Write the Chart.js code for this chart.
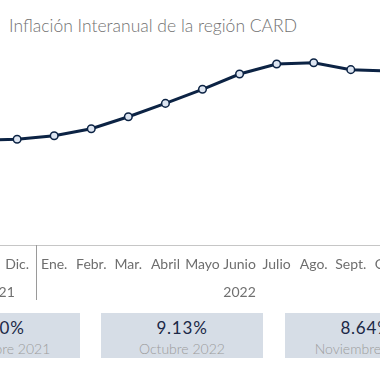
<!DOCTYPE html>
<html>
<head>
<meta charset="utf-8">
<script src="https://cdn.jsdelivr.net/npm/chart.js@4/dist/chart.umd.min.js"></script>
<style>
  html, body { margin:0; padding:0; background:#fff; }
  body { width:380px; height:380px; overflow:hidden; position:relative; font-family:Lato, "Open Sans", sans-serif; }
  #title { position:absolute; left:9px; top:16px; font-size:17.5px; line-height:20px; color:#727272; font-weight:300; white-space:nowrap; }
  #wrap { position:absolute; left:-43.8px; top:0; width:600px; height:310px; }
  .card { position:absolute; top:313px; width:162px; height:45px; background:#d6dde6; text-align:center; }
  .card .v { position:absolute; left:0; right:0; top:5px; font-size:17px; line-height:20px; color:#1b2846; letter-spacing:0.8px; }
  .card .l { position:absolute; left:0; right:0; top:27px; font-size:14px; line-height:17px; color:#9c9c9c; font-weight:300; }
</style>
</head>
<body>
<div id="title">Inflación Interanual de la región CARD</div>
<div id="wrap"><canvas id="c" width="600" height="310"></canvas></div>
<div id="cards"></div>
<script>
const months = ['Nov.','Dic.','Ene.','Febr.','Mar.','Abril','Mayo','Junio','Julio','Ago.','Sept.','Oct.','Nov.'];
const monthYears = ['2021','2021','2022','2022','2022','2022','2022','2022','2022','2022','2022','2022','2022'];
const inflation = [5.50, 5.55, 5.73, 6.10, 6.73, 7.43, 8.17, 8.97, 9.50, 9.56, 9.20, 9.13, 8.64];
const cardValues = ['5.50%', '9.13%', '8.64%'];
const cardLabels = ['Noviembre 2021', 'Octubre 2022', 'Noviembre 2022'];
const cardLefts = [-82, 101, 285];

const cardsEl = document.getElementById('cards');
cardValues.forEach((v, i) => {
  const d = document.createElement('div');
  d.className = 'card';
  d.style.left = cardLefts[i] + 'px';
  d.innerHTML = '<div class="v"></div><div class="l"></div>';
  d.querySelector('.v').textContent = v;
  d.querySelector('.l').textContent = cardLabels[i];
  cardsEl.appendChild(d);
});

const yearGroupsPlugin = {
  id: 'yearGroups',
  afterDraw(chart) {
    const x = chart.scales.x;
    const ctx = chart.ctx;
    const top = chart.chartArea.bottom;
    ctx.save();
    const groups = [];
    monthYears.forEach((y, i) => {
      if (!groups.length || groups[groups.length - 1].year !== y) groups.push({ year: y, first: i, last: i });
      else groups[groups.length - 1].last = i;
    });
    const half = (x.getPixelForValue(1) - x.getPixelForValue(0)) / 2;
    ctx.strokeStyle = '#9a9a9a';
    ctx.lineWidth = 1;
    groups.forEach((g) => {
      const xs = x.getPixelForValue(g.first) - half;
      const xe = x.getPixelForValue(g.last) + half;
      [xs, xe].forEach(px => {
        const p = Math.round(px) + 0.5;
        ctx.beginPath(); ctx.moveTo(p, top); ctx.lineTo(p, top + 55); ctx.stroke();
      });
      ctx.fillStyle = '#707070';
      ctx.font = '14px Lato, "Open Sans", sans-serif';
      ctx.textAlign = 'center';
      ctx.textBaseline = 'middle';
      ctx.fillText(g.year, (x.getPixelForValue(g.first) + x.getPixelForValue(g.last)) / 2, top + 47);
    });
    ctx.restore();
  }
};

new Chart(document.getElementById('c'), {
  type: 'line',
  data: {
    labels: months,
    datasets: [{
      data: inflation,
      borderColor: '#0c2344',
      borderWidth: 3,
      tension: 0,
      pointRadius: 3.8,
      pointBorderWidth: 1.5,
      pointBackgroundColor: '#dde5f1',
      pointBorderColor: '#0c2344',
      clip: false
    }]
  },
  options: {
    responsive: false,
    animation: false,
    devicePixelRatio: 1,
    layout: { padding: { top: 54.4, left: 0, right: 112.5, bottom: 0 } },
    plugins: { legend: { display: false }, tooltip: { enabled: false }, title: { display: false } },
    scales: {
      x: {
        type: 'category',
        offset: true,
        grid: { display: false, drawTicks: true, tickLength: 10 },
        border: { display: true, color: '#c6c6c6', width: 1 },
        ticks: { color: '#6e6e6e', font: { family: 'Lato', size: 14 }, padding: 1, maxRotation: 0, autoSkip: false },
        afterFit(s) { s.height = 65; s.paddingLeft = 0; s.paddingRight = 0; }
      },
      y: { display: false, min: 0, max: 10 }
    }
  },
  plugins: [yearGroupsPlugin]
});
</script>
</body>
</html>
